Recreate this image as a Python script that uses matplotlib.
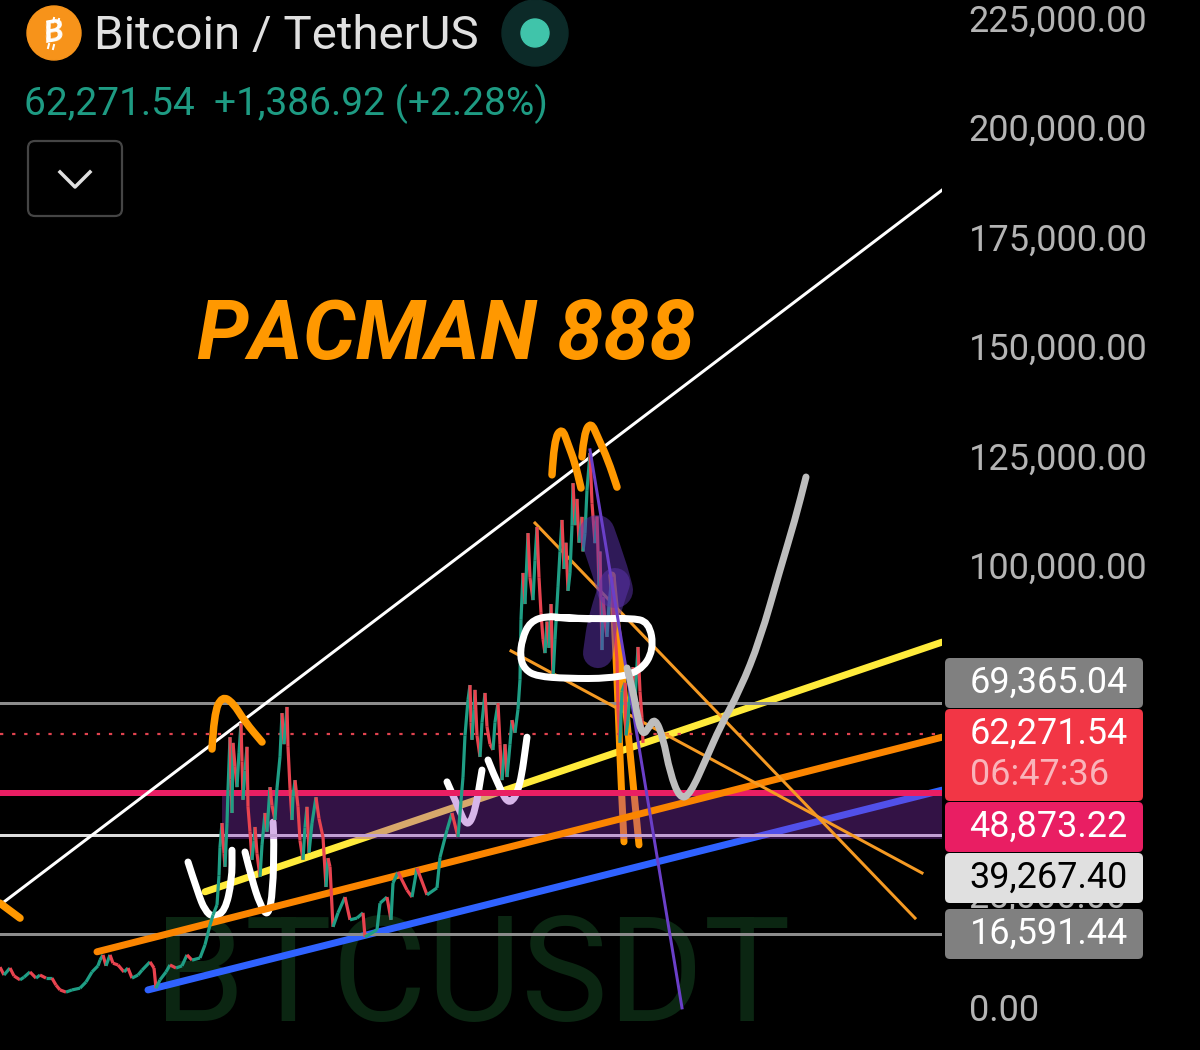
import numpy as np
import matplotlib
matplotlib.use('Agg')
import matplotlib.pyplot as plt
from matplotlib.collections import LineCollection
from matplotlib.patches import FancyBboxPatch, Circle, PathPatch
from matplotlib.path import Path
from matplotlib.transforms import ScaledTranslation

plt.rcParams['font.family'] = ['Roboto', 'DejaVu Sans']

# price levels
LEVEL_TOP = 69365.04
LAST_PRICE = 62271.54
LEVEL_PINK = 48873.22
LEVEL_WHITE = 39267.40
LEVEL_LOW = 16591.44

# 50k and 75k sit behind the price tags
price_ticks = [0, 25000, 100000, 125000, 150000, 175000, 200000, 225000]

# BTCUSDT closes, thousands
bar_x = [0, 4, 10, 14, 20, 24, 30, 36, 40, 46, 52, 56, 60, 66, 72, 80, 86, 92, 98, 100, 103, 106, 110, 113, 118,
         124, 128, 132, 138, 142, 150, 154, 156, 160, 166, 170, 176, 182, 187, 192, 200, 205, 210, 213, 217,
         219, 220, 222, 224, 225, 227, 228, 230, 231, 232, 233, 235, 237, 239, 241, 242, 243, 245, 247, 248,
         250, 252, 254, 255, 257, 260, 262, 265, 267, 270, 272, 275, 277, 280, 282, 284, 287, 288, 290, 292,
         293, 295, 298, 300, 303, 305, 307, 309, 312, 316, 319, 323, 326, 328, 330, 333, 338, 345, 350, 357,
         363, 365, 377, 380, 387, 391, 393, 398, 407, 412, 417, 427, 437, 440, 447, 452, 458,
         463, 465, 468, 470, 471, 472, 474, 475, 477, 480, 482, 485, 487, 490, 493, 495, 498, 500, 502, 505,
         507, 510, 512, 515, 518, 520,
         521, 523, 525, 528, 530, 533, 535, 537, 539, 541, 543, 545, 547, 549, 551, 553, 555, 558, 560, 562,
         564, 566, 568, 570, 572, 573, 575, 577, 579, 582, 583, 585, 587, 590, 592, 595, 597, 599, 600, 602,
         603, 605, 607, 609, 612, 614, 617, 618, 620, 622, 625, 626, 628, 630, 633, 635, 638, 640, 642, 643]
bar_close = [9.1, 7.3, 8.9, 7.1, 6.2, 6.8, 8.0, 6.6, 7.3, 6.6, 6.6, 5.0, 3.9, 3.4, 3.9, 4.3, 5.7, 8.0, 9.4, 10.7, 11.9, 9.4, 11.9, 10.0, 9.6,
             8.0, 8.9, 6.6, 7.3, 8.4, 10.3, 8.9, 4.3, 6.2, 8.0, 9.6, 8.9, 9.4, 11.9, 10.7, 11.2, 14.2, 18.7, 21.0, 23.3,
             30.0, 36.5, 42.0, 35.0, 32.0, 42.0, 49.5, 61.6, 52.0, 44.3, 60.3, 55.0, 50.2, 58.0, 64.8, 56.0, 47.3, 54.0, 59.4, 45.7,
             40.0, 33.6, 38.0, 41.1, 35.0, 29.7, 37.0, 44.3, 40.0, 50.2, 46.0, 42.7, 50.0, 57.1, 67.1, 60.0, 68.5, 59.4, 50.0, 42.7,
             48.0, 51.8, 45.7, 38.0, 33.6, 41.0, 45.7, 35.2, 42.0, 47.9, 43.0, 38.8, 27.4, 34.0, 32.0, 18.3, 21.5, 25.1, 19.9, 20.3,
             21.5, 16.0, 17.6, 23.7, 25.1, 19.9, 28.3, 30.8, 26.7, 25.1, 31.7, 25.6, 27.2, 34.2, 40.4, 44.3, 38.8,
             52.5, 62.0, 70.1, 73.5, 65.0, 61.0, 68.0, 72.4, 62.0, 57.1, 65.0, 71.7, 64.0, 60.0, 58.7, 65.0, 69.4, 60.0, 51.8, 60.0,
             52.5, 60.0, 65.5, 62.6, 68.0, 74.7,
             88.4, 99.1, 92.0, 108.2, 98.0, 92.9, 102.0, 109.6, 98.0, 90.0, 84.0, 80.8, 88.0, 82.0, 92.0, 75.1, 84.0, 95.9, 104.0, 111.2,
             100.0, 106.0, 95.0, 99.1, 110.0, 119.6, 110.0, 116.0, 106.0, 111.9, 104.0, 108.2, 118.0, 126.5, 115.0, 105.9, 112.0, 96.0, 104.0, 81.5,
             93.6, 88.0, 84.5, 92.0, 98.2, 88.0, 79.2, 68.0, 60.3, 72.0, 74.0, 62.0, 65.5, 72.0, 77.6, 70.0, 82.2, 72.0, 66.0, 60.3]

# trend lines: (x start, x end), (price start, price end) in thousands
white_x, white_p = [0, 942], [23.3, 186.5]
yellow_x, yellow_p = [205, 942], [26.3, 83.3]
orange_x, orange_p = [97, 942], [12.6, 61.6]
blue_x, blue_p = [148, 942], [3.9, 49.5]
thin_a_x, thin_a_p = [535, 915], [110.5, 20.3]
thin_b_x, thin_b_p = [511, 922], [81.3, 30.6]
drop_x, drop_p = [590, 682], [127.2, -0.2]

# hand drawn strokes
cup1_x, cup1_p = [188, 198, 205, 213, 225, 232, 232], [33.1, 26.0, 22.0, 20.5, 21.8, 29.0, 35.8]
cup2_x, cup2_p = [245, 252, 260, 268, 273, 274, 273], [35.4, 29.0, 23.4, 20.5, 26.4, 38.1, 42.2]
cup3_x, cup3_p = [447, 458, 467, 475, 482], [51.4, 45.7, 41.0, 44.4, 54.1]
cup4_x, cup4_p = [488, 500, 510, 520, 527], [56.4, 49.5, 46.0, 50.1, 61.6]
ring_x = [590, 563, 547, 530, 522, 520, 525, 537, 567, 610, 640, 654, 649, 630, 600, 557]
ring_p = [88.6, 88.8, 89.3, 88.0, 84.0, 79.8, 77.0, 75.5, 75.0, 75.0, 76.5, 81.5, 88.0, 88.8, 88.6, 88.9]
hump_x, hump_p = [212, 214, 222, 233, 245, 262], [58.9, 67.0, 71.0, 69.5, 65.1, 60.5]
top1_x, top1_p = [552, 554, 562, 568, 575, 581], [121.5, 129.5, 132.3, 128.5, 124.2, 118.5]
top2_x, top2_p = [582, 584, 591, 598, 608, 617], [125.6, 131.0, 133.6, 130.0, 124.9, 118.7]
edge_x, edge_p = [0, 20], [23.7, 20.3]
fall1_x, fall1_p = [612, 616, 620, 624], [98.6, 81.5, 56.4, 37.7]
fall2_x, fall2_p = [612, 617, 627, 639], [98.6, 86.8, 65.5, 37.0]
path_x = [627, 633, 638, 643, 649, 655, 663, 670, 680, 690, 707, 720, 740, 760, 780, 795, 806]
path_p = [77.4, 72.4, 65.5, 62.0, 63.9, 66.0, 61.6, 53.4, 47.5, 48.5, 57.1, 63.9, 72.4, 83.8, 99.8, 111.2, 121.0]
smear1_x, smear1_p = [597, 609, 615], [108.2, 100.5, 95.2]
smear2_x, smear2_p = [615, 603, 598], [96.8, 89.0, 80.8]

PX = 0.72  # points per pixel at dpi 100


def kline(ax, x, p, **kw):
    # prices come in thousands
    ax.plot(x, np.array(p) * 1000, **kw)


def stroke(ax, x, p, color, width, z, alpha=None):
    """freehand pen stroke, rounded between its points"""
    v = np.column_stack([x, np.array(p) * 1000.0])
    mids = (v[:-1] + v[1:]) / 2
    verts = [v[0]]
    codes = [Path.MOVETO]
    for i in range(1, len(v) - 1):
        verts += [v[i], mids[i]]
        codes += [Path.CURVE3, Path.CURVE3]
    verts.append(v[-1])
    codes.append(Path.LINETO)
    ax.add_patch(PathPatch(Path(verts, codes), fill=False, edgecolor=color, lw=width * PX, zorder=z,
                           alpha=alpha, capstyle='round', joinstyle='round'))


fig = plt.figure(figsize=(12, 10.5), dpi=100, facecolor='black')

ax = fig.add_axes([0, 0, 942 / 1200, 1], facecolor='black')
ax.set_xlim(0, 942)
ax.set_ylim(-9817, 229909)
for s in ax.spines.values():
    s.set_visible(False)
ax.set_xticks([])
ax.yaxis.tick_right()
ax.set_yticks(price_ticks)
ax.set_yticklabels(['{:,.2f}'.format(t) for t in price_ticks])
ax.tick_params(axis='y', length=0, pad=19.3, labelsize=26, labelcolor='#b4b4b4')
for lab, t in zip(ax.get_yticklabels(), price_ticks):
    if t > 0:
        lab.set_transform(lab.get_transform() + ScaledTranslation(0, 4 / 100, fig.dpi_scale_trans))

ax.text(472, 5900, 'BTCUSDT', color='#0b2612', fontsize=105, ha='center', va='center', zorder=1)

# under the zone
brush = dict(solid_capstyle='round', solid_joinstyle='round')
kline(ax, yellow_x, yellow_p, color='#ffeb3b', lw=7 * PX, zorder=2, **brush)
kline(ax, blue_x, blue_p, color='#2f62ff', lw=7 * PX, zorder=2, **brush)
for x, p in [(cup1_x, cup1_p), (cup2_x, cup2_p), (cup3_x, cup3_p), (cup4_x, cup4_p)]:
    stroke(ax, x, p, 'white', 7, 2)
stroke(ax, fall1_x, fall1_p, '#ff9800', 7, 2)
stroke(ax, fall2_x, fall2_p, '#ff9800', 7, 2)

ax.axhline(LEVEL_WHITE, color='#dedede', lw=3 * PX, zorder=2)
ax.fill_between([222, 942], 38300, LEVEL_PINK, color='#9032c2', alpha=0.36, lw=0, zorder=3)
ax.axhline(LEVEL_TOP, color='#8c8c8c', lw=3 * PX, zorder=3)
ax.axhline(LEVEL_LOW, color='#8c8c8c', lw=3 * PX, zorder=3)
ax.axhline(LAST_PRICE, color='#e0434f', lw=2.2 * PX, ls=(0, (1.5, 4)), zorder=3)
ax.axhline(LEVEL_PINK, color='#e91e63', lw=6 * PX, zorder=4)
kline(ax, orange_x, orange_p, color='#fb8500', lw=7 * PX, zorder=4, **brush)
kline(ax, white_x, white_p, color='white', lw=3 * PX, zorder=4)
kline(ax, thin_a_x, thin_a_p, color='#f59a23', lw=3 * PX, zorder=4)
kline(ax, thin_b_x, thin_b_p, color='#f59a23', lw=3 * PX, zorder=4)

# candles
closes = np.array(bar_close) * 1000
pts = np.column_stack([bar_x, closes])
segs = np.stack([pts[:-1], pts[1:]], axis=1)
cols = ['#1f9e85' if b >= a else '#e8434f' for a, b in zip(closes[:-1], closes[1:])]
ax.add_collection(LineCollection(segs, colors=cols, linewidths=3.2 * PX, zorder=5))

# annotations on top of the candles
stroke(ax, smear1_x, smear1_p, '#5e35b1', 36, 6, alpha=0.5)
stroke(ax, smear2_x, smear2_p, '#5e35b1', 30, 6, alpha=0.5)
stroke(ax, ring_x, ring_p, 'white', 7, 6)
kline(ax, drop_x, drop_p, color='#6a3fc8', lw=3 * PX, zorder=7)
for x, p in [(hump_x, hump_p), (top1_x, top1_p), (top2_x, top2_p), (edge_x, edge_p)]:
    stroke(ax, x, p, '#ff9800', 7.5, 7)
stroke(ax, path_x, path_p, '#bdbdbd', 7, 7)

# header and price tags, laid out in pixels
ui = fig.add_axes([0, 0, 1, 1])
ui.set_xlim(0, 1200)
ui.set_ylim(1050, 0)
ui.axis('off')
ui.patch.set_alpha(0)

ui.add_patch(Circle((54, 33), 27, color='#f7931a'))
ui.text(54, 33, 'B', color='white', fontsize=23, fontweight='bold', style='italic', rotation=10, ha='center', va='center')
ui.plot([54, 53], [18, 22], color='white', lw=2 * PX)
ui.plot([59, 58], [19, 23], color='white', lw=2 * PX)
ui.plot([49, 48], [44, 48], color='white', lw=2 * PX)
ui.plot([54, 53], [45, 49], color='white', lw=2 * PX)
ui.text(94, 36, 'Bitcoin / TetherUS', color='#e0e0e0', fontsize=34.2, va='center')
ui.add_patch(Circle((535, 33), 33, color='#0c2a28'))
ui.add_patch(Circle((535, 33), 14, color='#40c4aa'))
ui.text(24, 104, '62,271.54  +1,386.92 (+2.28%)', color='#1e9b83', fontsize=28, va='center')
ui.add_patch(FancyBboxPatch((28, 141), 94, 75, boxstyle='round,pad=0,rounding_size=7',
                            fc='black', ec='#454545', lw=2.2 * PX))
ui.plot([60, 75, 90], [172, 187, 172], color='#e0e0e0', lw=3.5 * PX)

ui.text(197, 337, 'PACMAN 888', color='#ff9800', fontsize=59.6, fontweight='bold', style='italic', va='center')

tags = [(658, 50, '#808080', '69,365.04', 'white', 683),
        (709, 92, '#f23645', '62,271.54', 'white', 734),
        (802, 50, '#e91e63', '48,873.22', 'white', 827),
        (853, 50, '#e0e0e0', '39,267.40', 'black', 878),
        (909, 50, '#808080', '16,591.44', 'white', 934)]
for top, h, fc, label, tc, ty in tags:
    ui.add_patch(FancyBboxPatch((945, top), 198, h, boxstyle='round,pad=0,rounding_size=5', fc=fc, ec='none'))
    ui.text(969.5, ty, label, color=tc, fontsize=25.9, va='center')
ui.text(969.5, 775, '06:47:36', color='#f9b4ba', fontsize=25.9, va='center')

fig.savefig('out.png', dpi=100, facecolor='black')
